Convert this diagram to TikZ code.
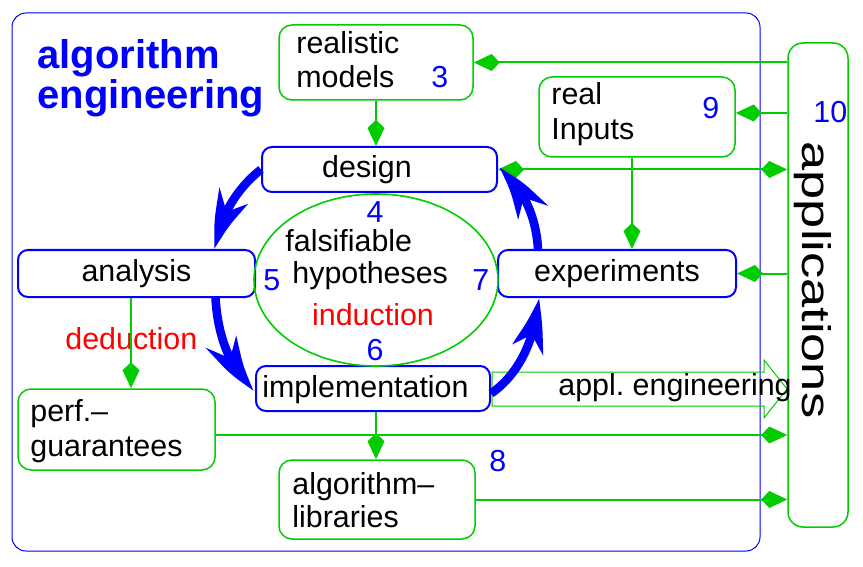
\documentclass[tikz,border=0pt]{standalone}
\usepackage{fontspec}
\usepackage{graphicx}
\setmainfont{Liberation Sans}
\usetikzlibrary{arrows.meta,shapes.geometric,bending}
\definecolor{gr}{RGB}{0,204,0}
\newcommand\myfs{\fontsize{15.2}{17}\selectfont}
\begin{document}
\begin{tikzpicture}[x=0.5pt,y=-0.5pt,
  gbox/.style={draw=gr, line width=0.75pt, rounded corners=6.5pt, inner sep=0pt},
  bbox/.style={draw=blue, line width=1pt, rounded corners=5pt, inner sep=0pt, font=\myfs},
  txt/.style={inner sep=0pt, anchor=base west, font=\myfs},
  num/.style={txt, text=blue},
  gline/.style={draw=gr, line width=1pt},
  kt/.tip={Kite[length=13pt,width=8.5pt,inset=4pt]},
  garrow/.style={gline, -kt},
  barrow/.style={draw=blue, line width=4.3pt, -{Stealth[length=27pt,width=16pt,inset=8pt,bend]}},
  title/.style={txt, font=\fontsize{20}{20}\selectfont\bfseries, text=blue}]
\useasboundingbox (0,0) rectangle (863,567);
% frame
\node[draw=blue, line width=0.5pt, rounded corners=7pt, minimum width=374pt, minimum height=269pt, inner sep=0pt] (frame) at (386,282) {};
\node[title] (t1) at (37,69) {algorithm};
\node[title] (t2) at (37,109) {engineering};
% applications
\node[gbox, rounded corners=7.5pt, minimum width=30pt, minimum height=242pt] (apps) at (818,285) {};
\node[rotate=-90, anchor=base, inner sep=0pt, font=\fontsize{20}{24}\selectfont] (apptxt) at (802,280) {\scalebox{1.31}[1]{applications}};
\node[num] (n10) at (813,123) {10};
% realistic models
\node[gbox, minimum width=97pt, minimum height=37.5pt] (models) at (376,62.5) {};
\node[txt] (mA) at (296,54) {realistic};
\node[txt] (mB) at (296,88) {models};
\node[num] (n3) at (431,88) {3};
% real inputs
\node[gbox, minimum width=98pt, minimum height=40pt] (inputs) at (637,117) {};
\node[txt] (iA) at (551,105) {real};
\node[txt] (iB) at (551,140) {Inputs};
\node[num] (n9) at (702,119) {9};
% blue boxes
\node[bbox, minimum width=117.5pt, minimum height=22.5pt] (design) at (379.5,169.5) {};
\node[inner sep=0pt, font=\myfs] (designT) at (367,170) {design};
\node[bbox, minimum width=118.5pt, minimum height=23.5pt] (analysis) at (136.5,273.5) {analysis};
\node[bbox, minimum width=119pt, minimum height=23.5pt] (experiments) at (617,273.5) {experiments};
\node[bbox, minimum width=117pt, minimum height=22.5pt] (impl) at (373,388.5) {};
\node[inner sep=0pt, font=\myfs] (implT) at (365.5,390) {implementation};
% hypotheses ellipse
\node[ellipse, draw=gr, line width=0.8pt, minimum width=122pt, minimum height=86pt, inner sep=0pt] (hyp) at (376,280) {};
\node[num, anchor=base] (n4) at (375,222) {4};
\node[txt] (hA) at (285,251) {falsifiable};
\node[txt] (hB) at (292,284) {hypotheses};
\node[txt, anchor=base, text=red] (ind) at (373,325) {induction};
\node[num, anchor=base] (n6) at (375,360) {6};
\node[num] (n5) at (263,291) {5};
\node[num] (n7) at (472,291) {7};
\node[txt, text=red] (ded) at (65,349) {deduction};
% perf guarantees
\node[gbox, minimum width=98.5pt, minimum height=40.5pt] (perf) at (116.5,429.5) {};
\node[txt] (pA) at (30,421) {perf.--};
\node[txt] (pB) at (30,456) {guarantees};
% libraries
\node[gbox, minimum width=98pt, minimum height=39.5pt] (libs) at (377,499.5) {};
\node[txt] (lA) at (292,494) {algorithm--};
\node[txt] (lB) at (292,527) {libraries};
\node[num] (n8) at (489,471) {8};
% appl. engineering hollow arrow
\draw[draw=gr, line width=0.5pt] (492,372) -- (764,372) -- (764,360) -- (787,389) -- (764,418) -- (764,406) -- (492,406) -- cycle;
\node[txt] (appl) at (558,395) {appl.\ engineering};
% green connectors
\coordinate (i9) at ([yshift=2pt]inputs.east);
\coordinate (ib) at ([xshift=-2.5pt]inputs.south);
\coordinate (ab) at ([xshift=-2.75pt]analysis.south);
\coordinate (lb) at ([xshift=1.5pt]impl.south);
\coordinate (pr) at ([yshift=-2.75pt]perf.east);
\draw[garrow] (apps.west |- models.east) -- (models.east);
\draw[garrow] (apps.west |- i9) -- (i9);
\draw[gline, kt-kt] (design.east) -- (apps.west |- design.east);
\draw[garrow] (apps.west |- experiments.east) -- (experiments.east);
\draw[garrow] (models.south) -- (models.south |- design.north);
\draw[garrow] (ib) -- (ib |- experiments.north);
\draw[garrow] (ab) -- (ab |- perf.north);
\draw[garrow] (lb) -- (lb |- libs.north);
\draw[garrow] (pr) -- (apps.west |- pr);
\draw[garrow] (libs.east) -- (apps.west |- libs.east);
% blue cycle arrows
\draw[barrow] (design.west) .. controls (235,190) and (218,220) .. ([xshift=40pt]analysis.north);
\draw[barrow] ([xshift=39.5pt]analysis.south) .. controls (218,340) and (232,372) .. (impl.west);
\draw[barrow] ([yshift=-2.5pt]impl.east) .. controls (518,375) and (536,340) .. ([xshift=-39.5pt]experiments.south);
\draw[barrow] ([xshift=-39.5pt]experiments.north) .. controls (536,215) and (522,185) .. (design.east);
\end{tikzpicture}
\end{document}
